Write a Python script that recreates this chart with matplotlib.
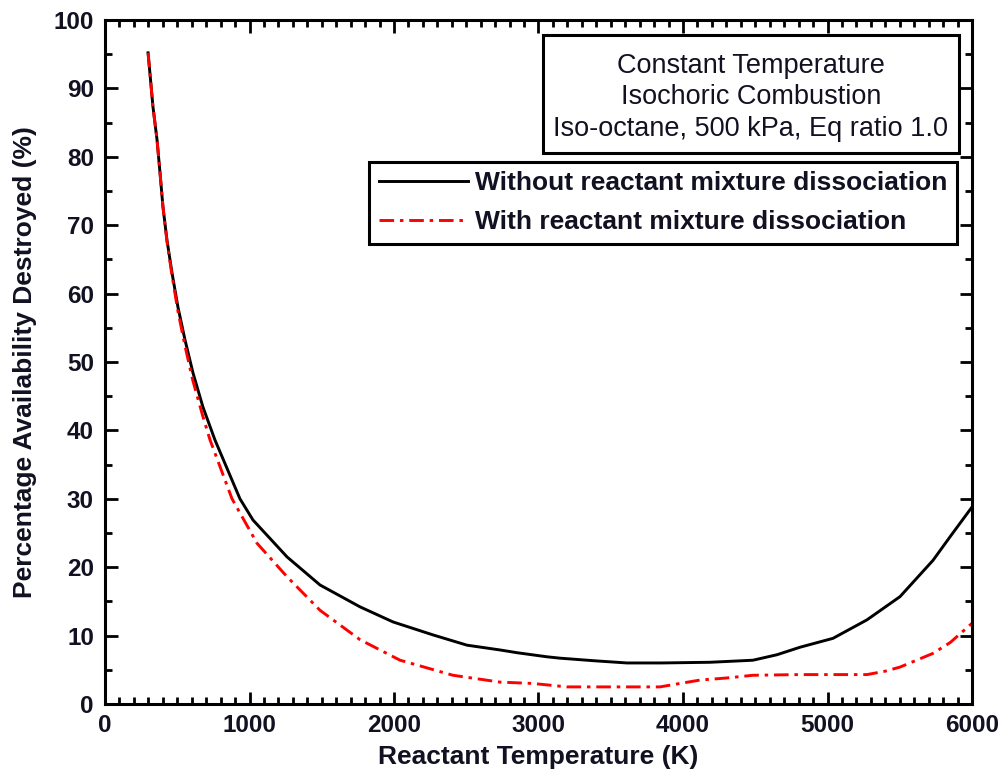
import matplotlib
matplotlib.use("Agg")
import matplotlib.pyplot as plt
from matplotlib.patches import Rectangle
from matplotlib.ticker import MultipleLocator

# Reactant temperature (K) and percentage of availability destroyed
temp_without = [298, 311, 332, 360, 381, 401, 429, 464, 505, 554, 609, 678, 761, 934,
                1024, 1260, 1488, 1765, 1993, 2270, 2505, 2734, 2851, 3059, 3149, 3400,
                3612, 3850, 4187, 4484, 4650, 4810, 5038, 5273, 5502, 5730, 5850, 6000]
pct_without = [95.2, 92.2, 87.3, 82.5, 77.6, 72.7, 67.8, 63.0, 58.0, 53.2, 48.4, 43.4, 38.6, 30.0,
               26.9, 21.5, 17.4, 14.2, 12.0, 10.1, 8.6, 7.9, 7.5, 6.9, 6.7, 6.3,
               6.0, 6.0, 6.1, 6.4, 7.2, 8.3, 9.6, 12.3, 15.7, 21.0, 24.5, 28.8]

temp_with = [298, 311, 332, 360, 381, 401, 429, 464, 505, 554, 609, 678, 727, 879,
             1052, 1260, 1488, 1765, 2042, 2408, 2734, 2962, 3197, 3500, 3841, 3950,
             4118, 4300, 4484, 4800, 5100, 5273, 5400, 5502, 5730, 5850, 6000]
pct_with = [95.2, 92.2, 87.3, 82.5, 77.6, 72.7, 67.6, 62.6, 57.4, 52.3, 47.2, 42.0, 38.6, 30.0,
            23.5, 18.6, 13.7, 9.4, 6.4, 4.2, 3.2, 3.0, 2.5, 2.5, 2.5, 2.9,
            3.5, 3.8, 4.2, 4.3, 4.3, 4.3, 4.8, 5.4, 7.4, 9.0, 11.8]

x_ticks = [0, 1000, 2000, 3000, 4000, 5000, 6000]
y_ticks = list(range(0, 101, 10))

label_without = "Without reactant mixture dissociation"
label_with = "With reactant mixture dissociation"
note_lines = ["Constant Temperature", "Isochoric Combustion",
              "Iso-octane, 500 kPa, Eq ratio 1.0"]

plt.rcParams['font.family'] = ['Liberation Sans', 'DejaVu Sans']
txt_color = '#111122'

W, H = 1004, 778
fig = plt.figure(figsize=(W / 100, H / 100), dpi=100)
ax = fig.add_axes([105 / W, 1 - 704 / H, (972 - 105) / W, (704 - 20) / H])

ax.plot(temp_without, pct_without, color='black', lw=2.1, label=label_without)
ax.plot(temp_with, pct_with, color='red', lw=2.1, ls=(0, (5, 2, 1.2, 2)), label=label_with)

ax.set_xlim(0, 6000)
ax.set_ylim(0, 100)
ax.set_xticks(x_ticks)
ax.set_yticks(y_ticks)
ax.xaxis.set_minor_locator(MultipleLocator(100))
ax.yaxis.set_minor_locator(MultipleLocator(5))
ax.tick_params(which='both', direction='in', top=True, right=True, width=2, colors='black',
               labelcolor=txt_color)
ax.tick_params(which='major', length=9, labelsize=17.5)
ax.tick_params(axis='x', which='major', pad=7)
ax.tick_params(axis='y', which='major', pad=8)
ax.tick_params(which='minor', length=5)
for lab in ax.get_xticklabels() + ax.get_yticklabels():
    lab.set_fontweight('bold')
for sp in ax.spines.values():
    sp.set_linewidth(2.2)

ax.set_xlabel("Reactant Temperature (K)", fontsize=19, fontweight='bold',
              color=txt_color, labelpad=6)
ax.set_ylabel("Percentage Availability Destroyed (%)", fontsize=19, fontweight='bold',
              color=txt_color, labelpad=12)

# description box in the upper right corner
bx0, bx1, by0, by1 = 543, 959, 35, 153
fig.patches.append(Rectangle((bx0 / W, 1 - by1 / H), (bx1 - bx0) / W, (by1 - by0) / H,
                             transform=fig.transFigure, fill=True, facecolor='white',
                             edgecolor='black', lw=2.2, zorder=5))
for i, line in enumerate(note_lines):
    fig.text((bx0 + bx1) / 2 / W, 1 - (66 + 31.5 * i) / H, line, ha='center', va='center',
             fontsize=19.5, color=txt_color, zorder=6)

leg = ax.legend(loc='upper right', bbox_to_anchor=((957 - 105) / 867, (704 - 162) / 684),
                borderaxespad=0, fancybox=False, edgecolor='black', framealpha=1,
                prop={'weight': 'bold', 'size': 19}, handlelength=3.4, handletextpad=0.27,
                borderpad=0.35, labelspacing=0.57)
leg.get_frame().set_linewidth(2.2)
for t in leg.get_texts():
    t.set_color(txt_color)

fig.savefig("out.png", dpi=100)
